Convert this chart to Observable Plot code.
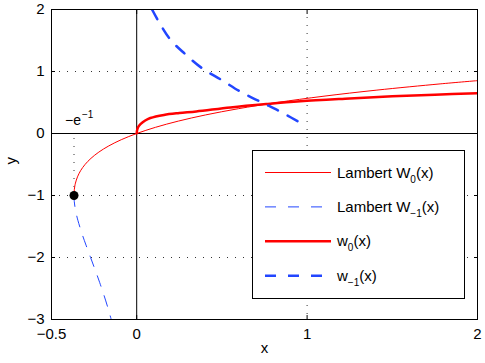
<!DOCTYPE html>
<html>
<head>
<meta charset="utf-8">
<script src="https://cdn.jsdelivr.net/npm/d3@7"></script>
<script src="https://cdn.jsdelivr.net/npm/@observablehq/plot@0.6"></script>
<style>
  body { margin: 0; background: #fff; }
  svg { display: block; }
</style>
</head>
<body>
<div id="chart"></div>
<script>
// ---- data ----
// Lambert W0 (thin red), principal branch
const w0X = [-0.3679, -0.3674, -0.3659, -0.3633, -0.3595, -0.3476, -0.3293, -0.3033, -0.2681, -0.2222, -0.1637, -0.0905, 0, 0.1105, 0.2443, 0.4050, 0.5967, 0.8244, 1.0933, 1.4096, 1.7804, 2.0];
const w0Y = [-1, -0.95, -0.9, -0.85, -0.8, -0.7, -0.6, -0.5, -0.4, -0.3, -0.2, -0.1, 0, 0.1, 0.2, 0.3, 0.4, 0.5, 0.6, 0.7, 0.8, 0.8526];
// Lambert W-1 (thin blue dashed), lower branch
const wm1X = [-0.3679, -0.3674, -0.3662, -0.3614, -0.3543, -0.3452, -0.3230, -0.2975, -0.2707, -0.2438, -0.2177, -0.1931, -0.1703, -0.1494];
const wm1Y = [-1, -1.05, -1.1, -1.2, -1.3, -1.4, -1.6, -1.8, -2, -2.2, -2.4, -2.6, -2.8, -3];
// approximation w0(x) (thick red)
const a0X = [0, 0.003, 0.01, 0.022, 0.05, 0.08, 0.16, 0.25, 0.35, 0.55, 0.76, 0.96, 1.25, 1.5, 1.75, 2.0];
const a0Y = [0, 0.06, 0.11, 0.15, 0.21, 0.25, 0.30, 0.33, 0.355, 0.42, 0.475, 0.52, 0.565, 0.60, 0.625, 0.65];
// approximation w-1(x) (thick blue dashed)
const am1X = [0.09, 0.19, 0.285, 0.39, 0.5, 0.618, 0.735, 0.852, 0.98];
const am1Y = [2, 1.54, 1.28, 1.04, 0.86, 0.66, 0.5, 0.34, 0.14];
// branch point (-1/e, -1)
const branchX = [-0.3679];
const branchY = [-1];

const xTicks = [-0.5, 0, 1, 2];
const xTickLabels = ["\u22120.5", "0", "1", "2"];
const yTicks = [-3, -2, -1, 0, 1, 2];
const yTickLabels = ["\u22123", "\u22122", "\u22121", "0", "1", "2"];
const xGridAt = [1];
const yGridAt = [-2, -1, 1];

const legendMain = ["Lambert W", "Lambert W", "w", "w"];
const legendSub = ["0", "\u22121", "0", "\u22121"];
const legendTail = ["(x)", "(x)", "(x)", "(x)"];

const RED = "#ff0000";
const BLUE = "#2246ff";
const FONT = "'Liberation Sans', Arial, Helvetica, sans-serif";

const toRows = (xs, ys) => xs.map((x, i) => ({x, y: ys[i]}));
const lambertW0 = toRows(w0X, w0Y);
const lambertWm1 = toRows(wm1X, wm1Y);
const approx0 = toRows(a0X, a0Y);
const approxm1 = toRows(am1X, am1Y);
const branch = toRows(branchX, branchY);

const gridStyle = {stroke: "#333", strokeOpacity: 1, strokeDasharray: "1,7"};

const plot = Plot.plot({
  width: 485,
  height: 363,
  marginLeft: 51,
  marginRight: 8,
  marginTop: 9,
  marginBottom: 44,
  x: {domain: [-0.5, 2]},
  y: {domain: [-3, 2]},
  style: {fontFamily: FONT, fontSize: "15px", color: "black", background: "white"},
  marks: [
    Plot.gridX(xGridAt, gridStyle),
    Plot.gridY(yGridAt, gridStyle),
    Plot.ruleX(branch, {x: "x", y1: "y", y2: 0, ...gridStyle}),
    Plot.ruleX([0], {stroke: "black", strokeWidth: 1}),
    Plot.ruleY([0], {stroke: "black", strokeWidth: 1}),
    Plot.line(lambertW0, {x: "x", y: "y", stroke: RED, strokeWidth: 1, curve: "catmull-rom", clip: true}),
    Plot.line(lambertWm1, {x: "x", y: "y", stroke: BLUE, strokeWidth: 1, strokeDasharray: "11,10", curve: "catmull-rom", clip: true}),
    Plot.line(approx0, {x: "x", y: "y", stroke: RED, strokeWidth: 2.5, curve: "catmull-rom", clip: true}),
    Plot.line(approxm1, {x: "x", y: "y", stroke: BLUE, strokeWidth: 2.5, strokeDasharray: "11,11", curve: "catmull-rom", clip: true}),
    Plot.dot(branch, {x: "x", y: "y", r: 4.5, fill: "black", stroke: "none"}),
    Plot.text(branch, {x: "x", y: 0, text: () => "\u2212e", textAnchor: "start", dx: -9, dy: -13, fontSize: 14}),
    Plot.text(branch, {x: "x", y: 0, text: () => "\u22121", textAnchor: "start", dx: 8, dy: -19, fontSize: 10}),
    Plot.frame({stroke: "black", strokeWidth: 1}),
    Plot.axisX(xTicks, {anchor: "bottom", tickSize: -4, tickPadding: 13, tickFormat: d => xTickLabels[xTicks.indexOf(d)], label: null}),
    Plot.axisX(xTicks, {anchor: "top", tickSize: -4, fill: "none", label: null}),
    Plot.axisY(yTicks, {anchor: "left", tickSize: -4, tickPadding: 11, tickFormat: d => yTickLabels[yTicks.indexOf(d)], label: null}),
    Plot.axisY(yTicks, {anchor: "right", tickSize: -4, fill: "none", label: null}),
    Plot.text(["x"], {text: d => d, frameAnchor: "bottom", dy: 33, fontSize: 15}),
    Plot.text(["y"], {text: d => d, frameAnchor: "left", dx: -40, rotate: -90, fontSize: 15})
  ]
});

document.getElementById("chart").appendChild(plot);

// ---- legend box (inside plot area) ----
const svg = d3.select(plot);
const lg = svg.append("g")
  .attr("font-family", FONT).attr("font-size", 15)
  .attr("fill", "black").attr("text-anchor", "start");
lg.append("rect")
  .attr("x", 252.5).attr("y", 150.5).attr("width", 212).attr("height", 148)
  .attr("fill", "white").attr("stroke", "black").attr("stroke-width", 1);
const legendStyles = [
  {stroke: RED, width: 1, dash: null},
  {stroke: BLUE, width: 1, dash: "11,12"},
  {stroke: RED, width: 2.5, dash: null},
  {stroke: BLUE, width: 2.5, dash: "11,12"}
];
legendMain.forEach((m, i) => {
  const cy = 172.5 + i * 34.4;
  const s = legendStyles[i];
  lg.append("line")
    .attr("x1", 265).attr("x2", 331).attr("y1", cy).attr("y2", cy)
    .attr("stroke", s.stroke).attr("stroke-width", s.width)
    .attr("stroke-dasharray", s.dash);
  const t = lg.append("text").attr("x", 337).attr("y", cy + 5).attr("text-anchor", "start");
  t.append("tspan").text(m);
  t.append("tspan").attr("dy", 5).attr("font-size", 10).text(legendSub[i]);
  t.append("tspan").attr("dy", -5).text(legendTail[i]);
});
</script>
</body>
</html>
